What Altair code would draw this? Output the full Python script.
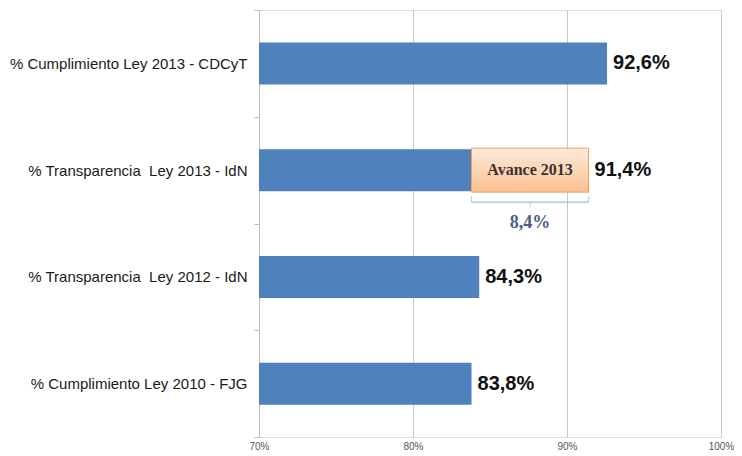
import altair as alt
import pandas as pd

categories = [
    "% Cumplimiento Ley 2013 - CDCyT",
    "% Transparencia \u00a0Ley 2013 - IdN",
    "% Transparencia \u00a0Ley 2012 - IdN",
    "% Cumplimiento Ley 2010 - FJG",
]
values = [92.6, 91.4, 84.3, 83.8]
x_ticks = [70, 80, 90, 100]
x_min = 70

annot_category = "% Transparencia \u00a0Ley 2013 - IdN"
annot_start = 83.8
annot_end = 91.4
annot_label = "Avance 2013"
annot_diff = "8,4%"

df = pd.DataFrame({
    "cat": categories,
    "val": values,
    "lbl": [f"{v:.1f}".replace(".", ",") + "%" for v in values],
})
ann = pd.DataFrame({
    "cat": [annot_category],
    "start": [annot_start],
    "end": [annot_end],
    "mid": [(annot_start + annot_end) / 2],
    "label": [annot_label],
    "diff": [annot_diff],
})

xscale = alt.Scale(domain=[x_min, 100], nice=False, zero=False)
yscale = alt.Scale(domain=categories, paddingInner=0, paddingOuter=0)

X = alt.X("val:Q", scale=xscale, axis=alt.Axis(
    values=x_ticks, labelExpr="datum.value + '%'", domain=False, ticks=False,
    tickSize=0, labelPadding=4, labelFlush=False, grid=True, gridColor="#C8C8C8",
    labelFont="Liberation Sans", labelFontSize=10, labelColor="#555555", title=None))
Y = alt.Y("cat:N", scale=yscale, sort=categories, axis=alt.Axis(
    title=None, tickBand="extent", tickSize=5, tickColor="#BBBBBB",
    domainColor="#BBBBBB", labelPadding=7, labelFont="Liberation Sans",
    labelFontSize=15, labelColor="#1A1A1A", labelLimit=300))

bars = alt.Chart(df).mark_bar(size=42, color="#4F81BD").encode(
    x=X, x2=alt.datum(x_min), y=Y)
vals = alt.Chart(df).mark_text(align="left", dx=6, font="Liberation Sans",
                               fontSize=20, fontWeight="bold", color="#111111").encode(
    x="val:Q", y=alt.Y("cat:N", sort=categories), text="lbl:N")

grad = alt.Gradient(gradient="linear",
                    stops=[alt.GradientStop(color="#FDEBDC", offset=0),
                           alt.GradientStop(color="#FAC090", offset=1)],
                    x1=0, x2=0, y1=0, y2=1)
box = alt.Chart(ann).mark_bar(size=44, fill=grad, stroke="#F2A062", strokeWidth=1).encode(
    x="start:Q", x2="end:Q", y=alt.Y("cat:N", sort=categories))
box_txt = alt.Chart(ann).mark_text(font="Liberation Serif", fontSize=16, fontWeight="bold",
                                   color="#3A3030").encode(
    x="mid:Q", y=alt.Y("cat:N", sort=categories), text="label:N")

brace_col = "#A9BAD3"
brace_h = alt.Chart(ann).mark_rule(color=brace_col, strokeWidth=1.2, yOffset=32).encode(
    x="start:Q", x2="end:Q", y=alt.Y("cat:N", sort=categories))
brace_l = alt.Chart(ann).mark_tick(color=brace_col, thickness=1.2, size=6, yOffset=29,
                                   orient="vertical").encode(
    x="start:Q", y=alt.Y("cat:N", sort=categories))
brace_r = alt.Chart(ann).mark_tick(color=brace_col, thickness=1.2, size=6, yOffset=29,
                                   orient="vertical").encode(
    x="end:Q", y=alt.Y("cat:N", sort=categories))
brace_m = alt.Chart(ann).mark_tick(color=brace_col, thickness=1.2, size=5, yOffset=34.5,
                                   orient="vertical").encode(
    x="mid:Q", y=alt.Y("cat:N", sort=categories))
diff_txt = alt.Chart(ann).mark_text(font="Liberation Serif", fontSize=18, fontWeight="bold",
                                    color="#4A5E85", yOffset=53).encode(
    x="mid:Q", y=alt.Y("cat:N", sort=categories), text="diff:N")

chart = alt.layer(bars, box, box_txt, brace_h, brace_l, brace_r, brace_m, diff_txt, vals).properties(
    width=462, height=427,
    autosize=alt.AutoSizeParams(type="none"),
    padding={"left": 251, "top": 2, "right": 13, "bottom": 18},
).configure_view(stroke=None).configure(background="white")

chart.save("out.html", embed_options={"renderer": "svg", "actions": False})
